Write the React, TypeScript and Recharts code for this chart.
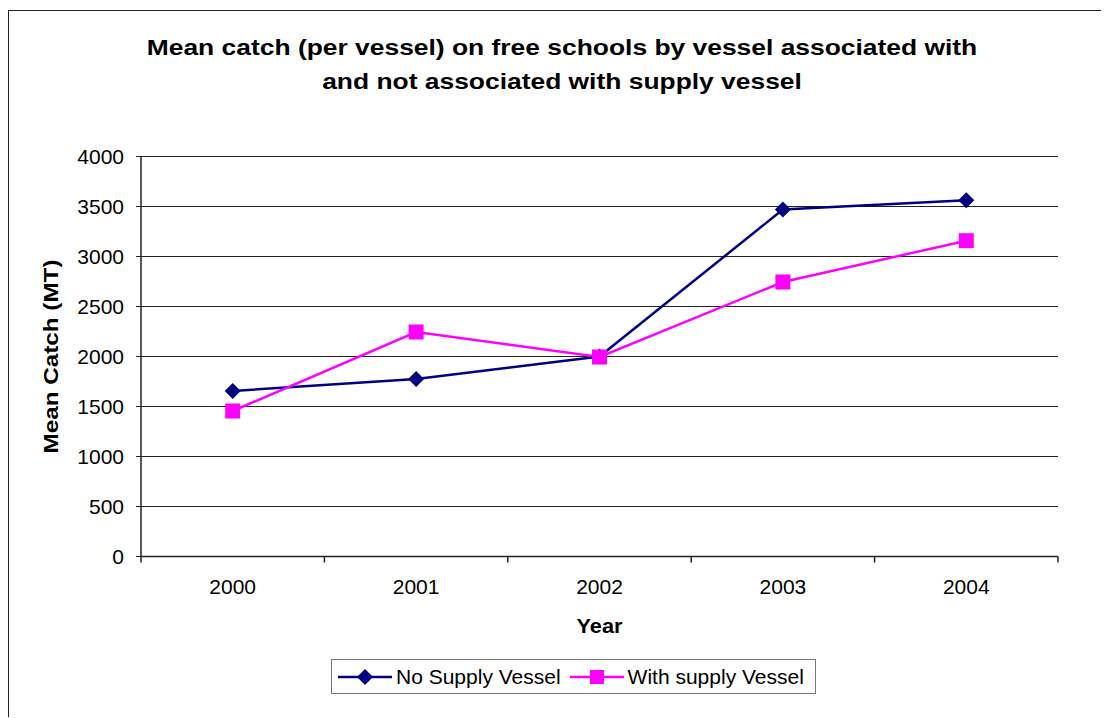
import React from 'react'
import { LineChart, Line, XAxis, YAxis, CartesianGrid, Legend, Label } from 'recharts'

const years = ['2000', '2001', '2002', '2003', '2004']
const noSupply = [1655, 1775, 2000, 3470, 3562]
const withSupply = [1455, 2245, 1995, 2745, 3158]
const yTicks = [0, 500, 1000, 1500, 2000, 2500, 3000, 3500, 4000]

const NAVY = '#000080'
const MAGENTA = '#FF00FF'
const FONT = '"Liberation Sans", Arial, sans-serif'

const data = years.map((year, i) => ({
  year,
  noSupply: noSupply[i],
  withSupply: withSupply[i],
}))

// recharts passes its own r to dots, so size is named differently
const Diamond = ({ cx, cy, fill, half = 8 }: any) => {
  if (cx == null || cy == null) return null
  return (
    <polygon
      points={`${cx},${cy - half} ${cx + half},${cy} ${cx},${cy + half} ${cx - half},${cy}`}
      fill={fill}
    />
  )
}

const Square = ({ cx, cy, fill, side = 15 }: any) => {
  if (cx == null || cy == null) return null
  return <rect x={cx - side / 2} y={cy - side / 2} width={side} height={side} fill={fill} />
}

// year labels sit in the middle of each band, tick marks sit on the band edges
const YearTick = ({ x, y, payload, index }: any) => {
  const half = payload?.offset || 91.7
  return (
    <g>
      <line x1={x - half} y1={y} x2={x - half} y2={y + 6} stroke="#222" strokeWidth={1.5} />
      {index === years.length - 1 && (
        <line x1={x + half} y1={y} x2={x + half} y2={y + 6} stroke="#222" strokeWidth={1.5} />
      )}
      <text x={x} y={y + 37} textAnchor="middle" fontSize={21} fill="#000">
        {payload.value}
      </text>
    </g>
  )
}

const LegendBox = ({ payload }: any) => (
  <div
    style={{
      display: 'flex',
      alignItems: 'center',
      border: '1px solid #777',
      height: 33,
      width: 483,
      boxSizing: 'content-box',
      fontFamily: FONT,
      fontSize: 21,
      color: '#000',
    }}
  >
    {(payload || []).map((entry: any, i: number) => (
      <div key={entry.dataKey} style={{ display: 'flex', alignItems: 'center', marginLeft: i === 0 ? 6 : 3, marginRight: 6 }}>
        <svg width={54} height={18} style={{ marginRight: 4 }}>
          <line x1={0} y1={9} x2={54} y2={9} stroke={entry.color} strokeWidth={2.5} />
          {entry.dataKey === 'noSupply' ? (
            <Diamond cx={27} cy={9} fill={entry.color} half={8} />
          ) : (
            <Square cx={27} cy={9} fill={entry.color} side={14} />
          )}
        </svg>
        <span>{entry.value}</span>
      </div>
    ))}
  </div>
)

export default function App() {
  return (
    <div
      style={{
        position: 'relative',
        marginTop: 2,
        width: 1100,
        height: 706,
        borderTop: '1px solid #222',
        borderLeft: '1px solid #222',
        fontFamily: FONT,
        background: '#fff',
      }}
    >
      <div
        style={{
          position: 'absolute',
          left: 0,
          width: 1106,
          top: 20,
          textAlign: 'center',
          fontWeight: 'bold',
          fontSize: 22,
          lineHeight: '34px',
          color: '#000',
          transform: 'scaleX(1.2)',
          transformOrigin: '553px 0',
        }}
      >
        Mean catch (per vessel) on free schools by vessel associated with
        <br />
        and not associated with supply vessel
      </div>
      <LineChart
        width={1100}
        height={706}
        data={data}
        margin={{ top: 145.5, right: 51, left: 0, bottom: 45.5 }}
      >
        <CartesianGrid vertical={false} stroke="#222" strokeWidth={1} />
        <XAxis
          dataKey="year"
          scale="band"
          axisLine={{ stroke: '#222', strokeWidth: 1.5 }}
          tickLine={false}
          tickSize={0}
          tickMargin={0}
          tick={<YearTick />}
          height={80}
          interval={0}
        >
          <Label
            content={({ viewBox }: any) => (
              <text
                x={viewBox.x + viewBox.width / 2}
                y={viewBox.y + 76}
                textAnchor="middle"
                fontSize={21}
                fontWeight="bold"
                fill="#000"
                textLength={46}
                lengthAdjust="spacingAndGlyphs"
              >
                Year
              </text>
            )}
          />
        </XAxis>
        <XAxis xAxisId="top" dataKey="year" orientation="top" height={0} tick={false} tickLine={false} axisLine={{ stroke: '#888', strokeWidth: 2 }} />
        <YAxis
          domain={[0, 4000]}
          ticks={yTicks}
          width={132}
          axisLine={{ stroke: '#222', strokeWidth: 1.5 }}
          tickLine={{ stroke: '#222', strokeWidth: 1 }}
          tickSize={5}
          tickMargin={12}
          tick={{ fontSize: 21, fill: '#000' }}
          interval={0}
        >
          <Label
            content={({ viewBox }: any) => {
              const cy = viewBox.y + viewBox.height / 2
              return (
                <text
                  x={49}
                  y={cy}
                  transform={`rotate(-90, 49, ${cy})`}
                  textAnchor="middle"
                  fontSize={21}
                  fontWeight="bold"
                  fill="#000"
                  textLength={194}
                  lengthAdjust="spacingAndGlyphs"
                >
                  Mean Catch (MT)
                </text>
              )
            }}
          />
        </YAxis>
        <YAxis yAxisId="right" orientation="right" width={0} domain={[0, 4000]} tick={false} tickLine={false} axisLine={{ stroke: '#888', strokeWidth: 2 }} />
        <Legend
          content={<LegendBox />}
          wrapperStyle={{ left: 322, top: 648, width: 'auto' }}
        />
        <Line
          dataKey="noSupply"
          name="No Supply Vessel"
          stroke={NAVY}
          strokeWidth={2.5}
          dot={<Diamond fill={NAVY} half={8} />}
          activeDot={false}
          isAnimationActive={false}
        />
        <Line
          dataKey="withSupply"
          name="With supply Vessel"
          stroke={MAGENTA}
          strokeWidth={2.5}
          dot={<Square fill={MAGENTA} side={15} />}
          activeDot={false}
          isAnimationActive={false}
        />
      </LineChart>
    </div>
  )
}
